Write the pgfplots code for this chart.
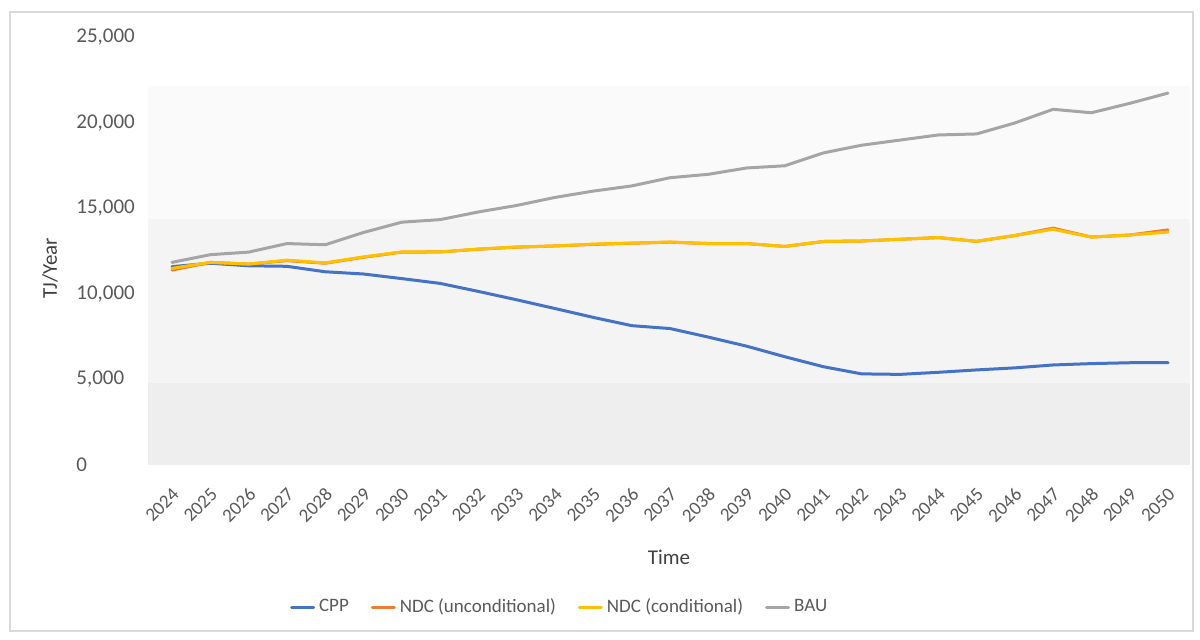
\documentclass[border=0pt]{standalone}
\usepackage{fontspec}
\setmainfont{Carlito}
\usepackage{pgfplots}
\pgfplotsset{compat=1.18}
\usepackage{pgfplotstable}

\definecolor{cppblue}{HTML}{4472C4}
\definecolor{ndcorange}{HTML}{ED7D31}
\definecolor{ndcyellow}{HTML}{FFC000}
\definecolor{baugray}{HTML}{A5A5A5}
\definecolor{labelgray}{HTML}{595959}
\definecolor{titlegray}{HTML}{404040}
\definecolor{bandA}{HTML}{FAFAFA}
\definecolor{bandB}{HTML}{F4F4F4}
\definecolor{bandC}{HTML}{EEEEEE}
\definecolor{framegray}{HTML}{D9D9D9}

% Energy demand by scenario, TJ per year
\pgfplotstableread{
year  cpp    ndcu   ndcc   bau
2024  11600  11400  11500  11850
2025  11800  11850  11850  12300
2026  11650  11750  11750  12450
2027  11620  11950  11980  12950
2028  11300  11800  11820  12880
2029  11170  12150  12170  13600
2030  10900  12450  12460  14200
2031  10620  12460  12460  14350
2032  10150  12620  12630  14800
2033   9660  12740  12750  15180
2034   9150  12810  12810  15650
2035   8630  12900  12920  16020
2036   8150  12970  12980  16320
2037   7980  13030  13040  16800
2038   7480  12950  12950  17000
2039   6950  12950  12950  17370
2040   6330  12780  12780  17500
2041   5750  13070  13070  18250
2042   5330  13100  13100  18700
2043   5300  13200  13200  19000
2044   5420  13300  13300  19300
2045   5560  13080  13080  19360
2046   5680  13420  13420  20000
2047   5850  13850  13780  20800
2048   5930  13330  13330  20600
2049   5980  13450  13450  21150
2050   5980  13750  13620  21750
}\energy

\begin{document}
\begin{tikzpicture}
\begin{axis}[
  scale only axis,
  width=521pt, height=213.75pt,
  xmin=2023.373, xmax=2050.574,
  ymin=0, ymax=25000,
  axis line style={draw=none},
  major tick length=0pt,
  xtick={2024,...,2050},
  ytick={0,5000,...,25000},
  scaled y ticks=false,
  yticklabel style={anchor=west, inner sep=0pt, xshift=-36pt,
    font=\fontsize{10.5}{12}\selectfont, text=labelgray,
    /pgf/number format/1000 sep={,},
    /pgf/number format/assume math mode=true},
  xticklabel style={yshift=-13pt, xshift=2pt, rotate=45, anchor=east,
    inner sep=0pt, font=\fontsize{9.5}{11}\selectfont, text=labelgray,
    /pgf/number format/1000 sep={},
    /pgf/number format/assume math mode=true},
  xlabel={Time},
  ylabel={TJ/Year},
  every axis x label/.style={at={(axis description cs:0.5,0)}, anchor=center,
    yshift=-46pt, font=\fontsize{10.5}{12}\selectfont, text=titlegray},
  every axis y label/.style={at={(axis description cs:0,0.46)}, anchor=center,
    xshift=-49pt, rotate=90, font=\fontsize{10.5}{12}\selectfont, text=titlegray},
  legend columns=4,
  legend style={at={(axis description cs:0.396,0)}, anchor=center, yshift=-71pt,
    draw=none, fill=none, font=\fontsize{9.5}{11}\selectfont, text=labelgray,
    /tikz/every even column/.append style={column sep=9pt}},
  legend image code/.code={\draw[#1, line width=1.5pt] (0pt,0pt) -- (11pt,0pt);},
  every axis plot/.append style={line width=1.5pt, line join=round, line cap=round},
]
% shaded plot-area background
\fill[bandA] (axis cs:2023.373,14386) rectangle (axis cs:2050.574,22164);
\fill[bandB] (axis cs:2023.373,4795) rectangle (axis cs:2050.574,14386);
\fill[bandC] (axis cs:2023.373,0) rectangle (axis cs:2050.574,4795);

\addplot[cppblue] table[x=year, y=cpp] {\energy};
\addlegendentry{CPP}
\addplot[ndcorange] table[x=year, y=ndcu] {\energy};
\addlegendentry{NDC (unconditional)}
\addplot[ndcyellow] table[x=year, y=ndcc] {\energy};
\addlegendentry{NDC (conditional)}
\addplot[baugray] table[x=year, y=bau] {\energy};
\addlegendentry{BAU}
\end{axis}
\draw[framegray, line width=0.6pt] (-69pt,-83pt) rectangle (522.5pt,226.5pt);
\useasboundingbox (-74pt,-87pt) rectangle (526pt,232.5pt);
\end{tikzpicture}
\end{document}
